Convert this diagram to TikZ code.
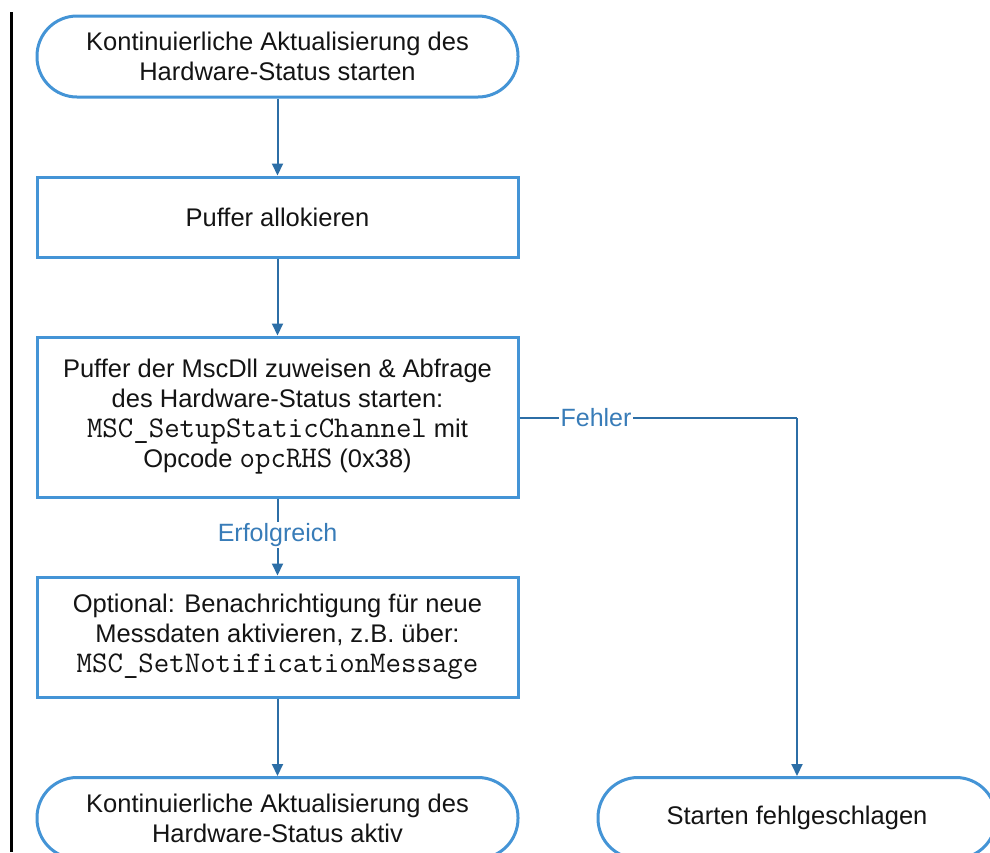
\documentclass[tikz,border=0pt]{standalone}
\usepackage{fontspec}
\setmainfont{Liberation Sans}
\usetikzlibrary{arrows.meta}
\definecolor{bordercol}{RGB}{68,148,214}
\definecolor{conncol}{RGB}{44,110,166}
\definecolor{lblcol}{RGB}{56,124,184}
\definecolor{txtcol}{RGB}{20,20,20}
\newcommand{\mc}[1]{{\fontsize{30}{30}\selectfont\ttfamily #1}}
\tikzset{
  base/.style={draw=bordercol, line width=3pt, text=txtcol, align=center,
    inner sep=0pt, font=\fontsize{25.5}{30}\selectfont},
  term/.style={base, rounded corners=40pt, minimum width=481pt, minimum height=81pt},
  procbox/.style={base, minimum width=481pt},
  conn/.style={draw=conncol, line width=2pt, -{Triangle[length=12pt,width=11pt]}},
  connplain/.style={draw=conncol, line width=2pt},
  lbl/.style={fill=white, text=lblcol, inner sep=1.5pt, font=\fontsize{25}{30}\selectfont},
}
\begin{document}
\begin{tikzpicture}[x=1pt,y=-1pt]
\useasboundingbox (0,0) rectangle (990,852);
\clip (0,0) rectangle (990,852);
\fill[white] (0,0) rectangle (990,852);
\fill[black] (10,12) rectangle (13,852);

\node[term] (t1) at (277.5,56.5) {Kontinuierliche Aktualisierung des\\Hardware-Status starten};
\node[procbox, minimum height=80pt] (b2) at (277.5,217) {Puffer allokieren};
\node[procbox, minimum height=160pt] (b3) at (277.5,417) {Puffer der MscDll zuweisen \& Abfrage\\des Hardware-Status starten:\\\mc{MSC\_SetupStaticChannel} mit\\Opcode \mc{opcRHS} (0x38)};
\node[procbox, minimum height=120pt] (b4) at (277.5,637) {Optional: Benachrichtigung für neue\\Messdaten aktivieren, z.B. über:\\\mc{MSC\_SetNotificationMessage}};
\node[term] (t5) at (277.5,818) {Kontinuierliche Aktualisierung des\\Hardware-Status aktiv};
\node[term, minimum width=398pt] (t6) at (797,818) {Starten fehlgeschlagen};

\coordinate (corner) at (797,418);
\draw[conn] (t1) -- (b2);
\draw[conn] (b2) -- (b3);
\draw[conn] (b3) -- (b4);
\draw[conn] (b4) -- (t5);
\draw[connplain] (b3.east |- corner) -- (corner);
\draw[conn] (corner) -- (t6.north);
\node[lbl] (lf) at (596,418) {Fehler};
\node[lbl] (le) at (277.5,535) {Erfolgreich};
\end{tikzpicture}
\end{document}
